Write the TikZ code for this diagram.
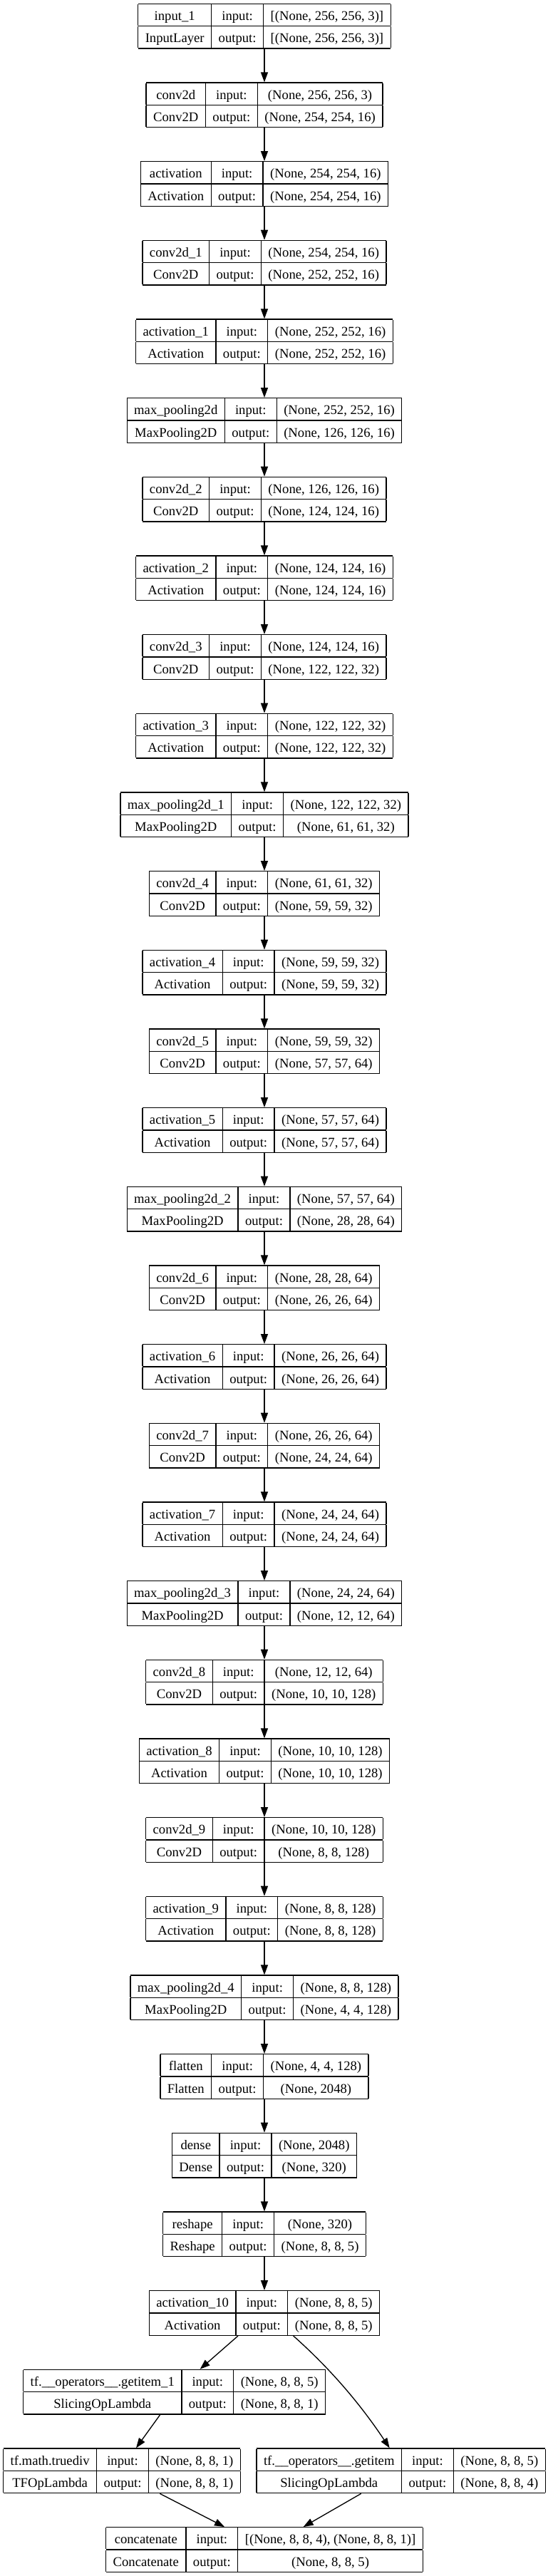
\documentclass[tikz,border=0pt]{standalone}
\usepackage{fontspec}
\setmainfont{Liberation Serif}
\usetikzlibrary{positioning,arrows.meta}

\setlength{\tabcolsep}{7.5pt}
\setlength{\arrayrulewidth}{1pt}
\newcommand{\rowstrut}{\rule[-5.6pt]{0pt}{22.5pt}}
\newcommand{\layertab}[4]{%
  \begin{tabular}{|c|c|c|}\hline
    \rowstrut #1 & input: & #3\\\hline
    \rowstrut #2 & output: & #4\\\hline
  \end{tabular}}

\tikzset{
  lbox/.style={inner sep=0pt, outer sep=0pt, font=\fontsize{14pt}{16.8pt}\selectfont},
  flow/.style={line width=1pt, -{Triangle[length=10.5pt,width=7.5pt]}}
}

\begin{document}
\begin{tikzpicture}[x=1pt, y=1pt]
    \fill[white] (0,0) rectangle (581.25,-2711.25);
    \useasboundingbox (0,0) rectangle (581.25,-2711.25);

    % Main chain of layers
    \foreach \lname/\lcls/\lin/\lout [count=\i] in {
        input\_1/InputLayer/{[(None, 256, 256, 3)]}/{[(None, 256, 256, 3)]},
        conv2d/Conv2D/{(None, 256, 256, 3)}/{(None, 254, 254, 16)},
        activation/Activation/{(None, 254, 254, 16)}/{(None, 254, 254, 16)},
        conv2d\_1/Conv2D/{(None, 254, 254, 16)}/{(None, 252, 252, 16)},
        activation\_1/Activation/{(None, 252, 252, 16)}/{(None, 252, 252, 16)},
        max\_pooling2d/MaxPooling2D/{(None, 252, 252, 16)}/{(None, 126, 126, 16)},
        conv2d\_2/Conv2D/{(None, 126, 126, 16)}/{(None, 124, 124, 16)},
        activation\_2/Activation/{(None, 124, 124, 16)}/{(None, 124, 124, 16)},
        conv2d\_3/Conv2D/{(None, 124, 124, 16)}/{(None, 122, 122, 32)},
        activation\_3/Activation/{(None, 122, 122, 32)}/{(None, 122, 122, 32)},
        max\_pooling2d\_1/MaxPooling2D/{(None, 122, 122, 32)}/{(None, 61, 61, 32)},
        conv2d\_4/Conv2D/{(None, 61, 61, 32)}/{(None, 59, 59, 32)},
        activation\_4/Activation/{(None, 59, 59, 32)}/{(None, 59, 59, 32)},
        conv2d\_5/Conv2D/{(None, 59, 59, 32)}/{(None, 57, 57, 64)},
        activation\_5/Activation/{(None, 57, 57, 64)}/{(None, 57, 57, 64)},
        max\_pooling2d\_2/MaxPooling2D/{(None, 57, 57, 64)}/{(None, 28, 28, 64)},
        conv2d\_6/Conv2D/{(None, 28, 28, 64)}/{(None, 26, 26, 64)},
        activation\_6/Activation/{(None, 26, 26, 64)}/{(None, 26, 26, 64)},
        conv2d\_7/Conv2D/{(None, 26, 26, 64)}/{(None, 24, 24, 64)},
        activation\_7/Activation/{(None, 24, 24, 64)}/{(None, 24, 24, 64)},
        max\_pooling2d\_3/MaxPooling2D/{(None, 24, 24, 64)}/{(None, 12, 12, 64)},
        conv2d\_8/Conv2D/{(None, 12, 12, 64)}/{(None, 10, 10, 128)},
        activation\_8/Activation/{(None, 10, 10, 128)}/{(None, 10, 10, 128)},
        conv2d\_9/Conv2D/{(None, 10, 10, 128)}/{(None, 8, 8, 128)},
        activation\_9/Activation/{(None, 8, 8, 128)}/{(None, 8, 8, 128)},
        max\_pooling2d\_4/MaxPooling2D/{(None, 8, 8, 128)}/{(None, 4, 4, 128)},
        flatten/Flatten/{(None, 4, 4, 128)}/{(None, 2048)},
        dense/Dense/{(None, 2048)}/{(None, 320)},
        reshape/Reshape/{(None, 320)}/{(None, 8, 8, 5)},
        activation\_10/Activation/{(None, 8, 8, 5)}/{(None, 8, 8, 5)}}
        \node[lbox, anchor=north] (L\i) at (278.25, {-3.5-83*(\i-1)})
            {\layertab{\lname}{\lcls}{\lin}{\lout}};

    \foreach \i [evaluate=\i as \j using int(\i+1)] in {1,...,29}
        \draw[flow] (L\i) -- (L\j);

    % Slicing branches
    \node[lbox, anchor=north] (getitem1) at (183.5, -2493.5)
        {\layertab{tf.\_\_operators\_\_.getitem\_1}{SlicingOpLambda}{(None, 8, 8, 5)}{(None, 8, 8, 1)}};
    \node[lbox, anchor=north west] (truediv) at (3.5, -2576.5)
        {\layertab{tf.math.truediv}{TFOpLambda}{(None, 8, 8, 1)}{(None, 8, 8, 1)}};
    \node[lbox, right=17pt of truediv] (getitem)
        {\layertab{tf.\_\_operators\_\_.getitem}{SlicingOpLambda}{(None, 8, 8, 5)}{(None, 8, 8, 4)}};
    \node[lbox, anchor=north] (concat) at (278.25, -2659.5)
        {\layertab{concatenate}{Concatenate}{[(None, 8, 8, 4), (None, 8, 8, 1)]}{(None, 8, 8, 5)}};

    \draw[flow] ([xshift=-27.75pt]L30.south) -- ([xshift=27pt]getitem1.north);
    \draw[flow] ([xshift=30.5pt]L30.south) .. controls +(45,-40) and +(-26,39) .. ([xshift=140pt]getitem.north west);
    \draw[flow] ([xshift=-15pt]getitem1.south) -- ([xshift=15pt]truediv.north);
    \draw[flow] ([xshift=40pt]truediv.south) -- ([xshift=-42pt]concat.north);
    \draw[flow] ([xshift=110pt]getitem.south west) -- ([xshift=41pt]concat.north);
\end{tikzpicture}
\end{document}
